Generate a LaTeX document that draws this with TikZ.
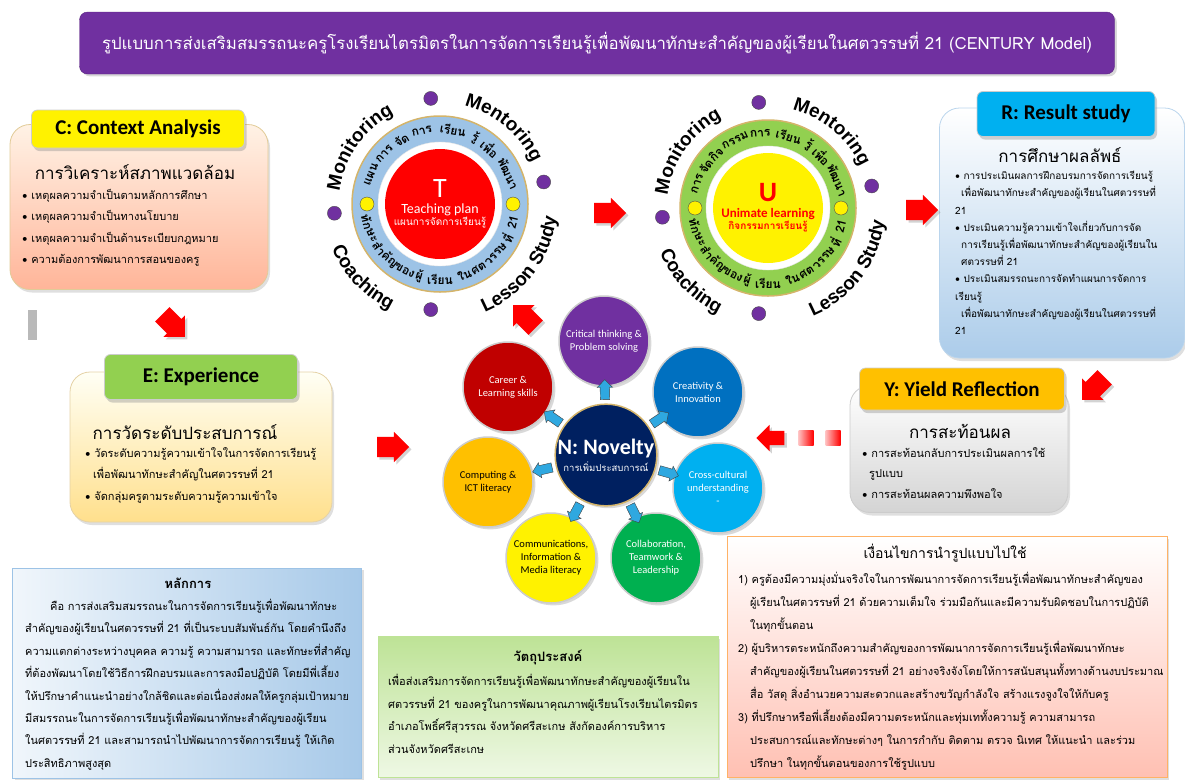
\documentclass[tikz,border=0pt]{standalone}
\usepackage{fontspec}
\setmainfont{Carlito}
\newfontfamily\thai[Script=Thai]{Loma}
\newfontfamily\arialfont{Liberation Sans}
\usetikzlibrary{shapes.arrows,shadows,decorations.text}

\definecolor{titlepurple}{HTML}{7030A0}
\definecolor{ringblue}{HTML}{9DC3E6}
\definecolor{ringgreen}{HTML}{92D050}
\definecolor{ringedge}{HTML}{D4B46A}
\definecolor{navy}{HTML}{002060}
\definecolor{creablue}{HTML}{0070C0}
\definecolor{crosscyan}{HTML}{00B0F0}
\definecolor{collgreen}{HTML}{00B050}
\definecolor{compgold}{HTML}{FFC000}
\definecolor{careerred}{HTML}{C00000}
\definecolor{arrowblue}{HTML}{2FA8E0}

\newcommand\blt{{\normalfont\textbullet}\ }
\newcommand\outerword{\arialfont\bfseries\fontsize{19}{19}\selectfont}

\tikzset{
  titlebar/.style={rounded corners=8pt, fill=titlepurple, draw=titlepurple!80!black, text=white, drop shadow={opacity=0.3}},
  panel/.style={rounded corners=20pt, draw=#1, line width=0.8pt, drop shadow={opacity=0.25, shadow xshift=2pt, shadow yshift=-3pt}},
  tagbox/.style={rounded corners=6pt, fill=#1, draw=black!20, line width=0.8pt, inner sep=0pt, font=\bfseries\fontsize{21}{24}\selectfont, drop shadow={opacity=0.35, shadow xshift=2pt, shadow yshift=-3pt}},
  headtext/.style={font=\thai\fontsize{17}{20}\selectfont, inner sep=0pt},
  listtext/.style={font=\thai\fontsize{11}{21.5}\selectfont, align=left, anchor=north west, inner sep=0pt},
  notebox/.style={draw=#1, line width=0.8pt, drop shadow={opacity=0.25, shadow xshift=2pt, shadow yshift=-2pt}},
  notetitle/.style={font=\thai\bfseries\fontsize{13}{15}\selectfont, inner sep=0pt},
  ringword/.style={font=\thai\bfseries\fontsize{12}{13}\selectfont, inner sep=0pt},
  ringdot/.style={circle, draw=black!70, fill=#1, minimum size=14pt, inner sep=0pt},
  skill/.style={circle, minimum size=90pt, inner sep=0pt, draw=black!20, line width=1.5pt, align=center, font=\fontsize{10.5}{13}\selectfont, drop shadow={opacity=0.3}},
  redarrow/.style={single arrow, fill=red, inner xsep=0pt, inner ysep=10pt, minimum height=32pt, single arrow head extend=5pt, drop shadow={opacity=0.35}},
  bluearrow/.style={single arrow, fill=arrowblue, draw=black!75, inner xsep=0pt, inner ysep=4.5pt, minimum height=20pt, single arrow head extend=3pt},
  fadesq/.style={minimum size=15pt, inner sep=0pt, left color=red!25, right color=red},
}

\begin{document}
\begin{tikzpicture}[x=1pt,y=1pt]
  \useasboundingbox (0,0) rectangle (1185,-780);

  \node[titlebar, minimum width=1035, minimum height=62] (title) at (597,-43)
    {\thai\fontsize{16.8}{20}\selectfont รูปแบบการส่งเสริมสมรรถนะครูโรงเรียนไตรมิตรในการจัดการเรียนรู้เพื่อพัฒนาทักษะสำคัญของผู้เรียนในศตวรรษที่ 21 (CENTURY Model)};

  % C
  \node[panel=ringedge!70, top color=orange!10, bottom color=orange!55!red!40!white, minimum width=258, minimum height=165] (Cbox) at (139,-207) {};
  \node[tagbox=yellow, minimum width=213, minimum height=38] (Ctag) at (138,-129) {C: Context Analysis};
  \node[headtext] (Chead) at (135,-172) {การวิเคราะห์สภาพแวดล้อม};
  \node[listtext] (Clist) at (22,-189) {\blt เหตุผลความจำเป็นตามหลักการศึกษา\\ \blt เหตุผลความจำเป็นทางนโยบาย\\ \blt เหตุผลความจำเป็นด้านระเบียบกฎหมาย\\ \blt ความต้องการพัฒนาการสอนของครู};
  \fill[gray!55] (28,-310) rectangle (37,-340);

  % E
  \node[panel=ringedge!60, top color=yellow!4, bottom color=yellow!45!orange!45, minimum width=262, minimum height=150] (Ebox) at (201,-447) {};
  \node[tagbox=ringgreen, minimum width=193, minimum height=45] (Etag) at (201,-377) {E: Experience};
  \node[headtext] (Ehead) at (185,-432) {การวัดระดับประสบการณ์};
  \node[listtext] (Elist) at (85,-447) {\blt วัดระดับความรู้ความเข้าใจในการจัดการเรียนรู้\\ \hspace*{8pt}เพื่อพัฒนาทักษะสำคัญในศตวรรษที่ 21\\ \blt จัดกลุ่มครูตามระดับความรู้ความเข้าใจ};

  % R
  \node[panel=ringblue!70, top color=white, bottom color=ringblue!85, minimum width=245, minimum height=250] (Rbox) at (1062,-233) {};
  \node[tagbox=crosscyan, minimum width=178, minimum height=45] (Rtag) at (1066,-114) {R: Result study};
  \node[headtext] (Rhead) at (1060,-155) {การศึกษาผลลัพธ์};
  \node[listtext, font=\thai\fontsize{10}{17.2}\selectfont] (Rlist) at (955,-171) {\blt การประเมินผลการฝึกอบรมการจัดการเรียนรู้\\ \hspace*{6pt}เพื่อพัฒนาทักษะสำคัญของผู้เรียนในศตวรรษที่\\ 21\\ \blt ประเมินความรู้ความเข้าใจเกี่ยวกับการจัด\\ \hspace*{6pt}การเรียนรู้เพื่อพัฒนาทักษะสำคัญของผู้เรียนใน\\ \hspace*{6pt}ศตวรรษที่ 21\\ \blt ประเมินสมรรถนะการจัดทำแผนการจัดการ\\ เรียนรู้\\ \hspace*{6pt}เพื่อพัฒนาทักษะสำคัญของผู้เรียนในศตวรรษที่\\ 21};

  % Y
  \node[panel=black!20, top color=white, bottom color=black!17, minimum width=218, minimum height=127] (Ybox) at (959,-449) {};
  \node[tagbox=compgold, minimum width=205, minimum height=42] (Ytag) at (962,-389) {Y: Yield Reflection};
  \node[headtext] (Yhead) at (960,-431) {การสะท้อนผล};
  \node[listtext, font=\thai\fontsize{11}{20.5}\selectfont] (Ylist) at (862,-447) {\blt การสะท้อนกลับการประเมินผลการใช้\\ \hspace*{7pt}รูปแบบ\\ \blt การสะท้อนผลความพึงพอใจ};

  % T and U rings
  \coordinate (T) at (440,-204);
  \coordinate (U) at (768,-208);
  \foreach \c/\ringcol/\corecol in {T/ringblue/red, U/ringgreen/yellow} {
    \node[circle, fill=\ringcol, draw=ringedge, line width=1.5pt, minimum size=176pt] (\c-ring) at (\c) {};
    \node[circle, fill=white, draw=black!10, minimum size=124pt] (\c-gap) at (\c) {};
    \node[circle, fill=\corecol, minimum size=110pt] (\c-core) at (\c) {};
    \foreach \a in {95,185,265,12}
      \node[ringdot=titlepurple] at ([shift={(\a:106)}]\c) {};
    \foreach \a in {0,180}
      \node[ringdot=yellow] at ([shift={(\a:73)}]\c) {};
    \foreach \w/\a in {ทัก/194, ษะ/205, สำ/216, คัญ/228, ของ/242, ผู้/254, เรียน/270, ใน/289, ศต/301, วรรษ/318, ที่/333, 21/346}
      \node[ringword, rotate=\a+90] at ([shift={(\a:75)}]\c) {\w};
    \path[decorate, decoration={text along path, text align=center, text={|\outerword|Monitoring}}]
      ([shift={(192:101)}]\c) arc[start angle=192, end angle=98, radius=101];
    \path[decorate, decoration={text along path, text align=center, text={|\outerword|Mentoring}}]
      ([shift={(86:101)}]\c) arc[start angle=86, end angle=14, radius=101];
    \path[decorate, decoration={text along path, text align=center, text={|\outerword|Coaching}}]
      ([shift={(195:117)}]\c) arc[start angle=195, end angle=252, radius=117];
    \path[decorate, decoration={text along path, text align=center, text={|\outerword|Lesson Study}}]
      ([shift={(284:117)}]\c) arc[start angle=284, end angle=362, radius=117];
  }
  \foreach \w/\a in {แผน/157, การ/138, จัด/121, การ/104, เรียน/80, รู้/62, เพื่อ/48, พัฒนา/24}
    \node[ringword, rotate=\a-90] at ([shift={(\a:75)}]T) {\w};
  \foreach \w/\a in {การ/161, จัด/146, กิจ/134, กรรม/116, การ/96, เรียน/74, รู้/57, เพื่อ/44, พัฒนา/22}
    \node[ringword, rotate=\a-90] at ([shift={(\a:75)}]U) {\w};
  \node[align=center, text=white, inner sep=0pt] (Ttext) at (T)
    {{\fontsize{28}{28}\selectfont T}\\[4pt]{\fontsize{14}{16}\selectfont Teaching plan}\\{\thai\fontsize{10}{13}\selectfont แผนการจัดการเรียนรู้}};
  \node[align=center, text=red, inner sep=0pt, font=\bfseries] (Utext) at (U)
    {{\fontsize{28}{28}\selectfont U}\\[4pt]{\fontsize{13}{16}\selectfont Unimate learning}\\{\thai\bfseries\fontsize{10}{13}\selectfont กิจกรรมการเรียนรู้}};

  % N: Novelty
  \node[circle, fill=navy, draw=ringedge, line width=1.5pt, minimum size=100pt, inner sep=0pt, align=center, text=white, drop shadow={opacity=0.3}] (N) at (606,-455)
    {{\bfseries\fontsize{22}{24}\selectfont N: Novelty}\\[3pt]{\thai\fontsize{9.5}{12}\selectfont การเพิ่มประสบการณ์}};
  \foreach \nm/\pos/\col/\tc/\ang/\txt in {
      crit/{604,-341}/titlepurple/white/91/{Critical thinking \&\\Problem solving},
      crea/{698,-392}/creablue/white/34/{Creativity \&\\Innovation},
      cross/{718,-488}/crosscyan/white/-16/{Cross-cultural\\understanding\\-},
      coll/{656,-558}/collgreen/white/-64/{Collaboration,\\Teamwork \&\\Leadership},
      comm/{551,-558}/yellow/black/-118/{Communications,\\Information \&\\Media literacy},
      comp/{488,-482}/compgold/black/-167/{Computing \&\\ICT literacy},
      career/{508,-387}/careerred/white/145/{Career \&\\Learning skills}} {
    \node[skill, fill=\col, text=\tc] (\nm) at (\pos) {\txt};
    \node[bluearrow, rotate=\ang] (to-\nm) at ([shift={(\ang:63)}]N.center) {};
  }

  % red block arrows
  \node[redarrow, rotate=-45] (CtoE) at (170,-322) {};
  \node[redarrow] (EtoN) at (388,-447) {};
  \node[redarrow, rotate=135] (NtoT) at (528,-320) {};
  \node[redarrow] (TtoU) at (605,-213) {};
  \node[redarrow] (UtoR) at (917,-210) {};
  \node[redarrow, rotate=-135] (RtoY) at (1097,-385) {};
  \node[redarrow, rotate=180, minimum height=28pt, inner ysep=7pt, single arrow head extend=6pt] (YtoN) at (774,-438) {};
  \node[fadesq] (YsqA) at (806,-438) {};
  \node[fadesq] (YsqB) at (833,-438) {};

  % principle
  \node[notebox=ringblue, left color=ringblue!15, right color=ringblue!90, minimum width=349, minimum height=210] (prin) at (187,-673) {};
  \node[notetitle] (prinhead) at (188,-583) {หลักการ};
  \node[listtext, font=\thai\fontsize{11}{22.4}\selectfont] (prinbody) at (25,-599) {\hspace*{25pt}คือ การส่งเสริมสมรรถนะในการจัดการเรียนรู้เพื่อพัฒนาทักษะ\\ สำคัญของผู้เรียนในศตวรรษที่ 21 ที่เป็นระบบสัมพันธ์กัน โดยคำนึงถึง\\ ความแตกต่างระหว่างบุคคล ความรู้ ความสามารถ และทักษะที่สำคัญ\\ ที่ต้องพัฒนาโดยใช้วิธีการฝึกอบรมและการลงมือปฏิบัติ โดยมีพี่เลี้ยง\\ ให้ปรึกษาคำแนะนำอย่างใกล้ชิดและต่อเนื่องส่งผลให้ครูกลุ่มเป้าหมาย\\ มีสมรรถนะในการจัดการเรียนรู้เพื่อพัฒนาทักษะสำคัญของผู้เรียน\\ ในศตวรรษที่ 21 และสามารถนำไปพัฒนาการจัดการเรียนรู้ ให้เกิด\\ ประสิทธิภาพสูงสุด};

  % objective
  \node[notebox=ringgreen!60, top color=ringgreen!60, bottom color=ringgreen!15, minimum width=340, minimum height=141] (obj) at (548,-707) {};
  \node[notetitle] (objhead) at (548,-657) {วัตถุประสงค์};
  \node[listtext, font=\thai\fontsize{11}{22.5}\selectfont] (objbody) at (388,-674) {เพื่อส่งเสริมการจัดการเรียนรู้เพื่อพัฒนาทักษะสำคัญของผู้เรียนใน\\ ศตวรรษที่ 21 ของครูในการพัฒนาคุณภาพผู้เรียนโรงเรียนไตรมิตร\\ อำเภอโพธิ์ศรีสุวรรณ จังหวัดศรีสะเกษ สังกัดองค์การบริหาร\\ ส่วนจังหวัดศรีสะเกษ};

  % conditions
  \node[notebox=orange!60, top color=white, bottom color=orange!35!red!30!white, minimum width=440, minimum height=241] (cond) at (947,-657) {};
  \node[notetitle, font=\thai\fontsize{14}{16}\selectfont] (condhead) at (945,-553) {เงื่อนไขการนำรูปแบบไปใช้};
  \node[listtext, font=\thai\fontsize{11}{23}\selectfont] (condbody) at (738,-572) {1) ครูต้องมีความมุ่งมั่นจริงใจในการพัฒนาการจัดการเรียนรู้เพื่อพัฒนาทักษะสำคัญของ\\ \hspace*{12pt}ผู้เรียนในศตวรรษที่ 21 ด้วยความเต็มใจ ร่วมมือกันและมีความรับผิดชอบในการปฏิบัติ\\ \hspace*{12pt}ในทุกขั้นตอน\\ 2) ผู้บริหารตระหนักถึงความสำคัญของการพัฒนาการจัดการเรียนรู้เพื่อพัฒนาทักษะ\\ \hspace*{12pt}สำคัญของผู้เรียนในศตวรรษที่ 21 อย่างจริงจังโดยให้การสนับสนุนทั้งทางด้านงบประมาณ\\ \hspace*{12pt}สื่อ วัสดุ สิ่งอำนวยความสะดวกและสร้างขวัญกำลังใจ สร้างแรงจูงใจให้กับครู\\ 3) ที่ปรึกษาหรือพี่เลี้ยงต้องมีความตระหนักและทุ่มเททั้งความรู้ ความสามารถ\\ \hspace*{12pt}ประสบการณ์และทักษะต่างๆ ในการกำกับ ติดตาม ตรวจ นิเทศ ให้แนะนำ และร่วม\\ \hspace*{12pt}ปรึกษา ในทุกขั้นตอนของการใช้รูปแบบ};
\end{tikzpicture}
\end{document}
